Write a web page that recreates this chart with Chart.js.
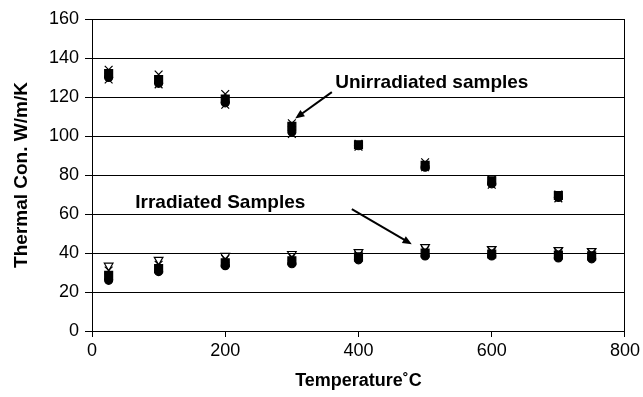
<!DOCTYPE html>
<html>
<head>
<meta charset="utf-8">
<script src="https://cdn.jsdelivr.net/npm/chart.js@4/dist/chart.umd.min.js"></script>
<style>
html, body { margin: 0; padding: 0; background: #fff; }
</style>
</head>
<body>
<canvas id="grafica" width="643" height="397"></canvas>
<script>
// temperaturas (C)
const tempsU = [25, 100, 200, 300, 400, 500, 600, 700];
const tempsI = [25, 100, 200, 300, 400, 500, 600, 700, 750];

// muestras sin irradiar
const uCircle = [130, 127, 117, 102, 95, 84, 75.5, 68.5];
const uSquare = [132, 129, 119, 105, 95.5, 85, 77, 69.5];
const uCross = [134, 131.5, 121.5, 106.5, 96, 86.5, 77.5, 70];
const uCross2 = [129, 126.5, 116, 101, 94.5, 84, 75, 68];

// muestras irradiadas
const iTri = [33.5, 36.5, 38.5, 39.5, 40.5, 43, 42, 41.5, 41];
const iCross = [31, 34, 37, 38, 39, 41.5, 41, 40.5, 40];
const iSquare = [28.5, 32, 35, 36, 38, 40, 39.5, 39, 38.5];
const iCircle = [26, 30.5, 33.5, 34.5, 36.5, 38.5, 38.5, 37.5, 37];

const yTicks = [0, 20, 40, 60, 80, 100, 120, 140, 160];
const xTicks = [0, 200, 400, 600, 800];

const puntos = (xs, ys) => xs.map((t, i) => ({ x: t, y: ys[i] }));

function serie(xs, ys, estilo, radio, relleno, rot) {
    return {
        data: puntos(xs, ys),
        pointStyle: estilo,
        pointRadius: radio,
        pointRotation: rot || 0,
        pointBackgroundColor: relleno ? '#000' : 'rgba(0,0,0,0)',
        pointBorderColor: '#000',
        pointBorderWidth: 1.2,
        showLine: false
    };
}

function flecha(ctx, x1, y1, x2, y2) {
    const ang = Math.atan2(y2 - y1, x2 - x1);
    ctx.beginPath();
    ctx.moveTo(x1, y1);
    ctx.lineTo(x2 - 6 * Math.cos(ang), y2 - 6 * Math.sin(ang));
    ctx.lineWidth = 2;
    ctx.stroke();
    ctx.beginPath();
    ctx.moveTo(x2, y2);
    ctx.lineTo(x2 - 10 * Math.cos(ang - 0.4), y2 - 10 * Math.sin(ang - 0.4));
    ctx.lineTo(x2 - 10 * Math.cos(ang + 0.4), y2 - 10 * Math.sin(ang + 0.4));
    ctx.closePath();
    ctx.fill();
}

// textos y flechas
const notas = {
    id: 'notas',
    afterDatasetsDraw(chart) {
        const { ctx, scales: { x, y } } = chart;
        ctx.save();
        ctx.fillStyle = '#000';
        ctx.strokeStyle = '#000';
        ctx.font = 'bold 19px "Liberation Sans", Arial, sans-serif';
        ctx.textBaseline = 'alphabetic';
        ctx.fillText('Unirradiated samples', x.getPixelForValue(365), y.getPixelForValue(124.6));
        ctx.fillText('Irradiated Samples', x.getPixelForValue(65), y.getPixelForValue(63));
        flecha(ctx, x.getPixelForValue(360), y.getPixelForValue(122.5),
            x.getPixelForValue(305), y.getPixelForValue(109));
        flecha(ctx, x.getPixelForValue(390), y.getPixelForValue(62.5),
            x.getPixelForValue(480), y.getPixelForValue(44.5));
        ctx.restore();
    }
};

const grafica = document.getElementById('grafica');

new Chart(grafica, {
    type: 'scatter',
    data: {
        datasets: [
            serie(tempsU, uCross, 'crossRot', 5.5, false),
            serie(tempsU, uCross2, 'crossRot', 5.5, false),
            serie(tempsU, uSquare, 'rect', 5.6, true),
            serie(tempsU, uCircle, 'circle', 4, true),
            serie(tempsI, iTri, 'triangle', 5, false, 180),
            serie(tempsI, iCross, 'crossRot', 5.5, false),
            serie(tempsI, iSquare, 'rect', 5.6, true),
            serie(tempsI, iCircle, 'circle', 4, true)
        ]
    },
    options: {
        responsive: false,
        animation: false,
        layout: {
            padding: { top: 19, right: 18, left: 0, bottom: 0 }
        },
        plugins: {
            legend: { display: false },
            tooltip: { enabled: false }
        },
        scales: {
            x: {
                type: 'linear',
                min: 0,
                max: 800,
                afterBuildTicks: s => { s.ticks = xTicks.map(v => ({ value: v })); },
                afterFit: s => { s.height = 66; },
                border: { display: true, color: '#000', width: 1 },
                grid: {
                    color: c => (c.tick && c.tick.value === 800) ? '#000' : 'rgba(0,0,0,0)',
                    tickColor: '#000',
                    tickLength: 6,
                    lineWidth: 1
                },
                ticks: {
                    color: '#000',
                    padding: 3,
                    maxRotation: 0,
                    font: { family: '"Liberation Sans", Arial, sans-serif', size: 18 }
                },
                title: {
                    display: true,
                    text: 'Temperature˚C',
                    color: '#000',
                    padding: { top: 0, bottom: 5 },
                    font: { family: '"Liberation Sans", Arial, sans-serif', size: 18, weight: 'bold' }
                }
            },
            y: {
                min: 0,
                max: 160,
                afterBuildTicks: s => { s.ticks = yTicks.map(v => ({ value: v })); },
                afterFit: s => { s.width = 92; },
                border: { display: true, color: '#000', width: 1 },
                grid: {
                    color: '#000',
                    tickColor: '#000',
                    tickLength: 7,
                    lineWidth: 1
                },
                ticks: {
                    color: '#000',
                    padding: 6,
                    font: { family: '"Liberation Sans", Arial, sans-serif', size: 18 }
                },
                title: {
                    display: true,
                    text: 'Thermal Con. W/m/K',
                    color: '#000',
                    padding: { top: 10, bottom: 0 },
                    font: { family: '"Liberation Sans", Arial, sans-serif', size: 19, weight: 'bold' }
                }
            }
        }
    },
    plugins: [notas]
});
</script>
</body>
</html>
